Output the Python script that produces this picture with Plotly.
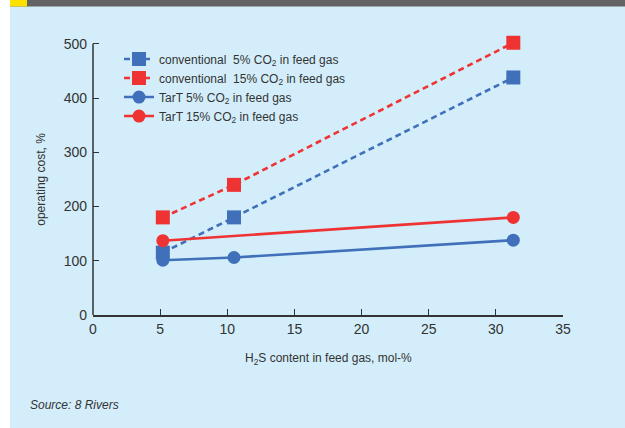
import plotly.graph_objects as go

# H2S content in feed gas (mol-%) and relative operating cost (%)
conv5_x = [5.2, 10.5, 31.3]
conv5_y = [115, 180, 438]
conv15_x = [5.2, 10.5, 31.3]
conv15_y = [180, 240, 502]
tart5_x = [5.2, 10.5, 31.3]
tart5_y = [101, 106, 138]
tart15_x = [5.2, 31.3]
tart15_y = [137, 180]

series_names = [
    "conventional  5% CO<sub>2</sub> in feed gas",
    "conventional  15% CO<sub>2</sub> in feed gas",
    "TarT 5% CO<sub>2</sub> in feed gas",
    "TarT 15% CO<sub>2</sub> in feed gas",
]
x_ticks = [0, 5, 10, 15, 20, 25, 30, 35]
y_ticks = [0, 100, 200, 300, 400, 500]

BLUE = "#4070b9"
RED = "#ef3333"
BG = "#d3eefa"
INK = "#333333"
FONT = "Liberation Sans, Arial, sans-serif"

W, H = 625, 428
Y_MAX = 520
ML, MR, MB = 93, 62, 113
PH = (H - MB - 44.3) * Y_MAX / 500
MT = H - MB - PH
PW = W - ML - MR


def px(x):
    return (x - ML) / PW


def py(y):
    return (H - MB - y) / PH


fig = go.Figure()
fig.add_trace(go.Scatter(
    x=conv5_x, y=conv5_y, name=series_names[0], mode="lines+markers",
    line=dict(color=BLUE, width=2.6, dash="6px,4px"),
    marker=dict(symbol="square", size=14, color=BLUE)))
fig.add_trace(go.Scatter(
    x=conv15_x, y=conv15_y, name=series_names[1], mode="lines+markers",
    line=dict(color=RED, width=2.6, dash="6px,4px"),
    marker=dict(symbol="square", size=14, color=RED)))
fig.add_trace(go.Scatter(
    x=tart5_x, y=tart5_y, name=series_names[2], mode="lines+markers",
    line=dict(color=BLUE, width=2.6),
    marker=dict(symbol="circle", size=13, color=BLUE)))
fig.add_trace(go.Scatter(
    x=tart15_x, y=tart15_y, name=series_names[3], mode="lines+markers",
    line=dict(color=RED, width=2.6),
    marker=dict(symbol="circle", size=13, color=RED)))

for tr in fig.data:
    tr.cliponaxis = False

axis_common = dict(
    linecolor=INK, linewidth=1.5,
    ticks="inside", ticklen=6, tickwidth=1.2, tickcolor=INK,
    showgrid=False, zeroline=False,
    tickfont=dict(family=FONT, size=14, color=INK),
)

fig.update_layout(
    width=W, height=H,
    margin=dict(l=ML, r=MR, t=MT, b=MB, pad=0),
    paper_bgcolor=BG, plot_bgcolor="rgba(0,0,0,0)",
    font=dict(family=FONT, color=INK),
    xaxis=dict(range=[0, 35], tickvals=x_ticks, showline=True, **axis_common),
    yaxis=dict(range=[0, Y_MAX], tickvals=y_ticks, showline=False,
               ticklabelstandoff=5, **axis_common),
    showlegend=True,
    legend=dict(
        x=px(119), y=py(45), xanchor="left", yanchor="top",
        bgcolor="rgba(0,0,0,0)", borderwidth=0,
        font=dict(family=FONT, size=12, color=INK),
        tracegroupgap=0, itemwidth=30,
    ),
    shapes=[
        # white strip on the left edge
        dict(type="rect", xref="paper", yref="paper", layer="below",
             x0=px(0), x1=px(10), y0=py(H), y1=py(0),
             fillcolor="white", line=dict(width=0)),
        # dark header bar with yellow marker
        dict(type="rect", xref="paper", yref="paper", layer="below",
             x0=px(10), x1=px(W), y0=py(7), y1=py(0),
             fillcolor="#636363", line=dict(width=0)),
        dict(type="rect", xref="paper", yref="paper", layer="below",
             x0=px(10), x1=px(27), y0=py(7), y1=py(0),
             fillcolor="#ffe100", line=dict(width=0)),
        # y axis line, running up to the top tick only
        dict(type="line", xref="paper", yref="y", layer="above",
             x0=0, x1=0, y0=0, y1=y_ticks[-1],
             line=dict(color=INK, width=1.5)),
    ],
    annotations=[
        dict(text="H<sub>2</sub>S content in feed gas, mol-%",
             xref="paper", yref="paper", x=px(328), y=py(359),
             xanchor="center", yanchor="middle", showarrow=False,
             font=dict(family=FONT, size=12, color=INK)),
        dict(text="operating cost, %", textangle=-90,
             xref="paper", yref="paper", x=px(41), y=py(180),
             xanchor="center", yanchor="middle", showarrow=False,
             font=dict(family=FONT, size=12, color=INK)),
        dict(text="<i>Source: 8 Rivers</i>",
             xref="paper", yref="paper", x=px(28), y=py(405),
             xanchor="left", yanchor="middle", showarrow=False,
             font=dict(family=FONT, size=12, color=INK)),
    ],
)

fig.write_html("out.html")
